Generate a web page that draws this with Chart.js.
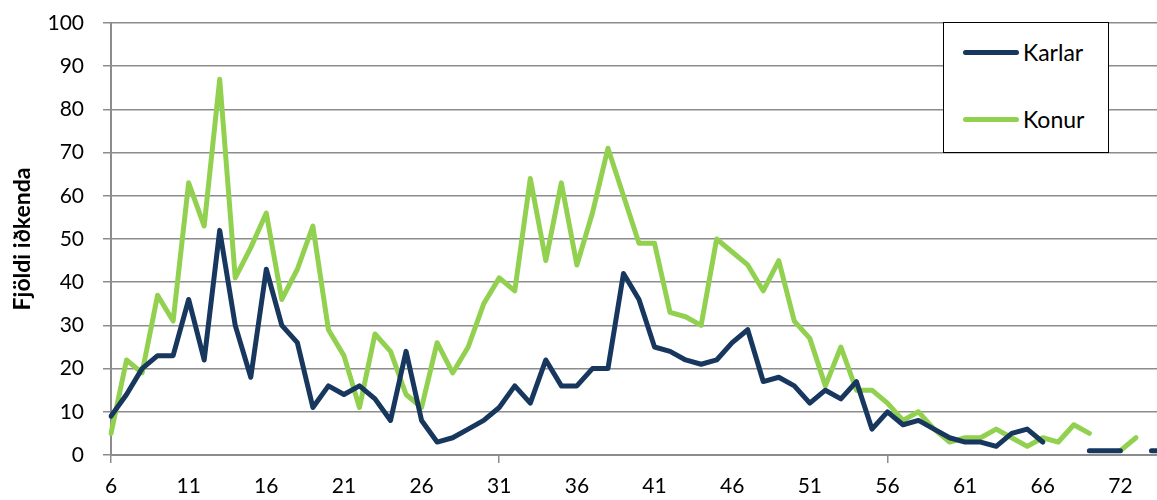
<!DOCTYPE html>
<html lang="is">
<head>
  <meta charset="UTF-8" />
  <title>Fjöldi iðkenda eftir aldri</title>
  <script src="https://cdn.jsdelivr.net/npm/chart.js"></script>
  <style>
    html, body { margin: 0; padding: 0; background: #fff; overflow: hidden; }
    #wrap { position: relative; width: 1175px; height: 500px; }
    #legend {
      position: absolute; left: 943px; top: 22px; width: 164px; height: 129px;
      border: 1.5px solid #000; background: #fff; font-family: Lato, "Open Sans", sans-serif;
      font-size: 23px; color: #000;
    }
    #legend .item { position: absolute; left: 19px; display: flex; align-items: center; }
    #legend .swatch { width: 56px; height: 5px; border-radius: 3px; margin-right: 4px; }
  </style>
</head>
<body>
  <div id="wrap">
    <canvas id="chart"></canvas>
    <div id="legend"></div>
  </div>

  <script>
    // age categories (71 is not in the data)
    const ages = [6, 7, 8, 9, 10, 11, 12, 13, 14, 15, 16, 17, 18, 19, 20, 21, 22, 23, 24, 25,
      26, 27, 28, 29, 30, 31, 32, 33, 34, 35, 36, 37, 38, 39, 40, 41, 42, 43, 44, 45,
      46, 47, 48, 49, 50, 51, 52, 53, 54, 55, 56, 57, 58, 59, 60, 61, 62, 63, 64, 65,
      66, 67, 68, 69, 70, 72, 73, 74, 75];

    const karlar = [9, 14, 20, 23, 23, 36, 22, 52, 30, 18, 43, 30, 26, 11, 16, 14, 16, 13, 8, 24,
      8, 3, 4, 6, 8, 11, 16, 12, 22, 16, 16, 20, 20, 42, 36, 25, 24, 22, 21, 22,
      26, 29, 17, 18, 16, 12, 15, 13, 17, 6, 10, 7, 8, 6, 4, 3, 3, 2, 5, 6,
      3, null, null, 1, 1, 1, null, 1, 1];

    const konur = [5, 22, 19, 37, 31, 63, 53, 87, 41, 48, 56, 36, 43, 53, 29, 23, 11, 28, 24, 14,
      11, 26, 19, 25, 35, 41, 38, 64, 45, 63, 44, 56, 71, 60, 49, 49, 33, 32, 30, 50,
      47, 44, 38, 45, 31, 27, 16, 25, 15, 15, 12, 8, 10, 6, 3, 4, 4, 6, 4, 2,
      4, 3, 7, 5, null, 1, 4, null, null];

    const yTitle = "Fjöldi iðkenda";
    const gridGray = "#8c8c8c";
    const fontFamily = "Lato, 'Open Sans', sans-serif";

    const ctx = document.getElementById("chart").getContext("2d");
    const chart = new Chart(ctx, {
      type: "line",
      data: {
        labels: ages,
        datasets: [
          {
            label: "Karlar",
            data: karlar,
            borderColor: "#17375e",
            backgroundColor: "#17375e",
            borderWidth: 5,
            pointRadius: 0,
            borderJoinStyle: "round",
            borderCapStyle: "round",
            spanGaps: false,
            tension: 0
          },
          {
            label: "Konur",
            data: konur,
            borderColor: "#92d050",
            backgroundColor: "#92d050",
            borderWidth: 5,
            pointRadius: 0,
            borderJoinStyle: "round",
            borderCapStyle: "round",
            spanGaps: false,
            tension: 0
          }
        ]
      },
      options: {
        responsive: true,
        maintainAspectRatio: false,
        animation: false,
        layout: { padding: { top: 23, right: 8, left: 0, bottom: 0 } },
        plugins: {
          legend: { display: false },
          tooltip: { enabled: false }
        },
        scales: {
          x: {
            type: "category",
            offset: false,
            afterFit: scale => { scale.height = 45; },
            grid: {
              drawOnChartArea: false,
              drawTicks: true,
              tickLength: 8,
              lineWidth: 1.5,
              color: c => (c.index % 5 === 0 ? gridGray : "rgba(0,0,0,0)")
            },
            border: { display: true, color: gridGray, width: 2 },
            ticks: {
              autoSkip: false,
              maxRotation: 0,
              padding: 11,
              color: "#000",
              font: { family: fontFamily, size: 21 },
              callback: function (val, i) { return i % 5 === 0 ? this.getLabelForValue(val) : null; }
            }
          },
          y: {
            min: 0,
            max: 100,
            afterFit: scale => {
              scale.width = 111;
              scale.paddingTop = 0;
              scale.paddingBottom = 0;
            },
            grid: { color: gridGray, lineWidth: 1.5, tickLength: 8 },
            border: { display: true, color: gridGray, width: 2 },
            ticks: {
              stepSize: 10,
              padding: 19,
              color: "#000",
              font: { family: fontFamily, size: 21 }
            },
            title: {
              display: true,
              text: yTitle,
              color: "#000",
              padding: { top: 9, bottom: 0 },
              font: { family: fontFamily, size: 23, weight: "bold" }
            }
          }
        }
      }
    });

    // legend box (top right, inside the plot)
    const legend = document.getElementById("legend");
    chart.data.datasets.forEach((ds, i) => {
      const item = document.createElement("div");
      item.className = "item";
      item.style.top = (i === 0 ? 15 : 82) + "px";
      const sw = document.createElement("span");
      sw.className = "swatch";
      sw.style.background = ds.borderColor;
      const txt = document.createElement("span");
      txt.textContent = ds.label;
      item.appendChild(sw);
      item.appendChild(txt);
      legend.appendChild(item);
    });
  </script>
</body>
</html>
